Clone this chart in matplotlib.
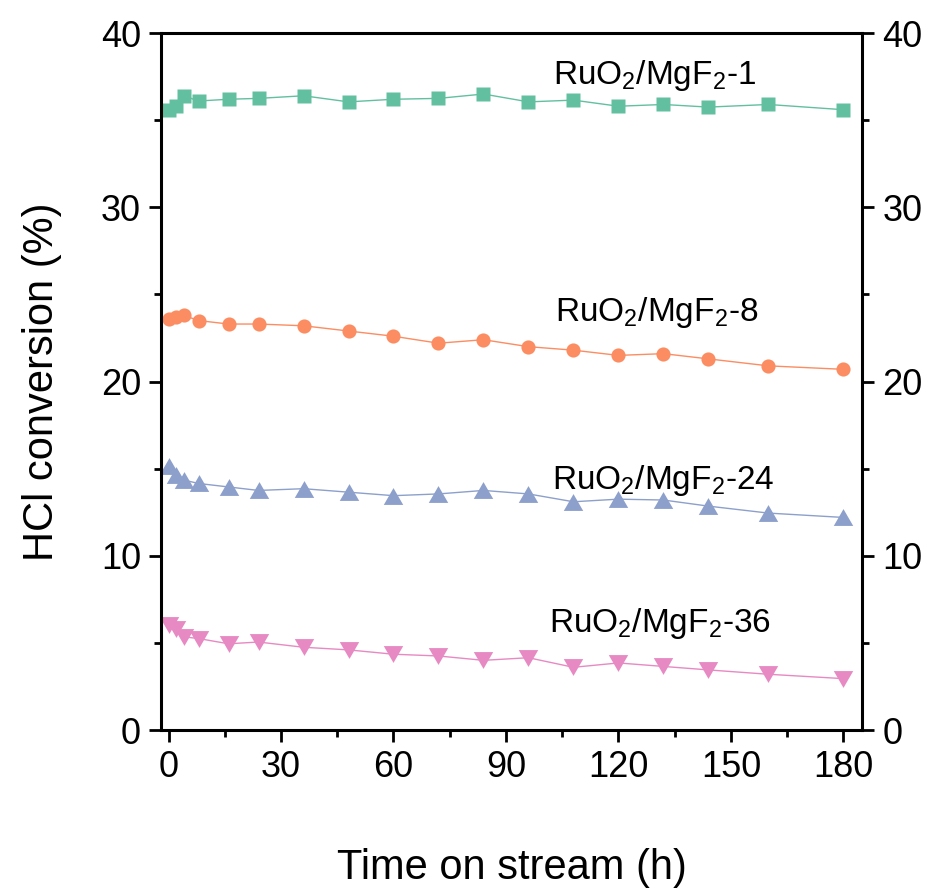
import matplotlib
matplotlib.use("Agg")
import matplotlib.pyplot as plt
from matplotlib.ticker import MultipleLocator

plt.rcParams['font.family'] = ['Liberation Sans', 'DejaVu Sans']
plt.rcParams['mathtext.fontset'] = 'custom'
plt.rcParams['mathtext.rm'] = 'Liberation Sans'
plt.rcParams['mathtext.it'] = 'Liberation Sans'

# time on stream (h)
time_h = [0, 2, 4, 8, 16, 24, 36, 48, 60, 72, 84, 96, 108, 120, 132, 144, 160, 180]

# HCl conversion (%)
conv_1 = [35.6, 35.8, 36.4, 36.1, 36.2, 36.25, 36.4, 36.05, 36.2, 36.25, 36.5, 36.05,
          36.15, 35.8, 35.9, 35.75, 35.9, 35.6]
conv_8 = [23.6, 23.7, 23.8, 23.5, 23.3, 23.3, 23.2, 22.9, 22.6, 22.2, 22.4, 22.0,
          21.8, 21.5, 21.6, 21.3, 20.9, 20.7]
conv_24 = [15.15, 14.65, 14.35, 14.15, 13.95, 13.75, 13.85, 13.65, 13.45, 13.55, 13.75, 13.55,
           13.1, 13.25, 13.2, 12.85, 12.45, 12.2]
conv_36 = [6.0, 5.8, 5.35, 5.25, 4.95, 5.05, 4.75, 4.6, 4.35, 4.25, 4.0, 4.15,
           3.6, 3.85, 3.65, 3.45, 3.2, 2.95]

labels = [r'RuO$_2$/MgF$_2$-1', r'RuO$_2$/MgF$_2$-8', r'RuO$_2$/MgF$_2$-24', r'RuO$_2$/MgF$_2$-36']
label_x = [102.6, 103.0, 102.3, 101.4]
label_y = [37.1, 23.5, 13.85, 5.65]

# equilateral triangles like Origin's symbols
tri_up = [(-1, -0.866), (1, -0.866), (0, 0.866), (-1, -0.866)]
tri_down = [(-1, 0.866), (1, 0.866), (0, -0.866), (-1, 0.866)]

fig = plt.figure(figsize=(9.31, 8.93), dpi=100)
ax = fig.add_axes([0.173, 0.1825, 0.753, 0.7805])

series = [conv_1, conv_8, conv_24, conv_36]
colors = ['#62c0a0', '#fc8d62', '#8da0cb', '#e78ac3']
markers = ['s', 'o', tri_up, tri_down]
msizes = [9.8, 10.2, 14, 14]

for vals, c, m, ms in zip(series, colors, markers, msizes):
    ax.plot(time_h, vals, color=c, lw=1.0, marker=m, ms=ms, mec='none', mfc=c)

for txt, lx, ly in zip(labels, label_x, label_y):
    ax.text(lx, ly, txt, fontsize=24, ha='left', va='baseline')

ax.set_xlim(-2, 185)
ax.set_ylim(0, 40)
ax.xaxis.set_major_locator(MultipleLocator(30))
ax.xaxis.set_minor_locator(MultipleLocator(15))
ax.yaxis.set_major_locator(MultipleLocator(10))
ax.yaxis.set_minor_locator(MultipleLocator(5))

for s in ax.spines.values():
    s.set_linewidth(2.2)

ax.tick_params(axis='both', which='major', direction='out', length=8.5, width=2,
               labelsize=26, pad=6)
ax.tick_params(axis='both', which='minor', direction='out', length=5, width=2)
ax.tick_params(axis='y', which='both', left=True, right=True, labelleft=True, labelright=True)
ax.tick_params(axis='x', which='both', top=False)

ax.set_xlabel('Time on stream (h)', fontsize=30, labelpad=45)
ax.set_ylabel('HCl conversion (%)', fontsize=30, labelpad=28)

fig.savefig('out.png', dpi=100)
